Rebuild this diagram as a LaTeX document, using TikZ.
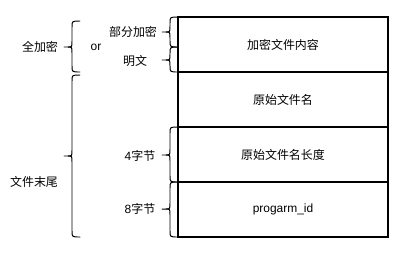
\documentclass[tikz,border=0pt]{standalone}
\usepackage{fontspec}
\setmainfont{Liberation Sans}
\newfontfamily\cjk{Noto Sans CJK SC}
\usetikzlibrary{positioning,calc}

% curly brace opening to the left: #1 x of the ends, #2 top, #3 bottom, #4 tip
\newcommand\drawcurly[4]{%
  \draw[curly] (#1,#2) .. controls (#1-8,#2) .. (#1-8,#2+6) -- (#1-8,#4-6)
    .. controls (#1-8,#4) .. (#1-12,#4) -- (#1-16,#4);
  \draw[curly] (#1-12,#4) .. controls (#1-8,#4) .. (#1-8,#4+6) -- (#1-8,#3-6)
    .. controls (#1-8,#3) .. (#1,#3);
}

\begin{document}
\begin{tikzpicture}[x=0.025cm, y=-0.025cm, font=\fontsize{8.5}{10}\selectfont,
  cell/.style={draw, line width=0.8pt, minimum width=5.25cm, minimum height=1.375cm,
    outer sep=0pt, inner sep=0pt},
  curly/.style={line width=0.7pt, line cap=round},
  lbl/.style={inner sep=1pt}]
  \useasboundingbox (0,0) rectangle (400,252);

  % the four fields of the file
  \node[cell] (content) at (283,44.5) {\cjk 加密文件内容};
  \node[cell, below=0pt of content] (name) {\cjk 原始文件名};
  \node[cell, below=0pt of name] (namelen) {\cjk 原始文件名长度};
  \node[cell, below=0pt of namelen] (progid) {progarm\_id};

  % braces next to the boxes
  \drawcurly{178}{17}{47}{32}
  \drawcurly{178}{47}{72}{60}
  \drawcurly{178}{127}{182}{155}
  \drawcurly{178}{182}{237}{209}
  \node[lbl] (partial) at (133,32) {\cjk 部分加密};
  \node[lbl] (plain) at (135,61) {\cjk 明文};
  \node[lbl] (four) at (140,156) {4{\cjk 字节}};
  \node[lbl] (eight) at (140,209) {8{\cjk 字节}};

  % outer braces
  \drawcurly{80}{21}{72}{47}
  \drawcurly{80}{75}{237}{156}
  \node[lbl] (full) at (40,47) {\cjk 全加密};
  \node[lbl] (or) at (96,47) {or};
  \node[lbl] (tail) at (34,182) {\cjk 文件末尾};
\end{tikzpicture}
\end{document}
